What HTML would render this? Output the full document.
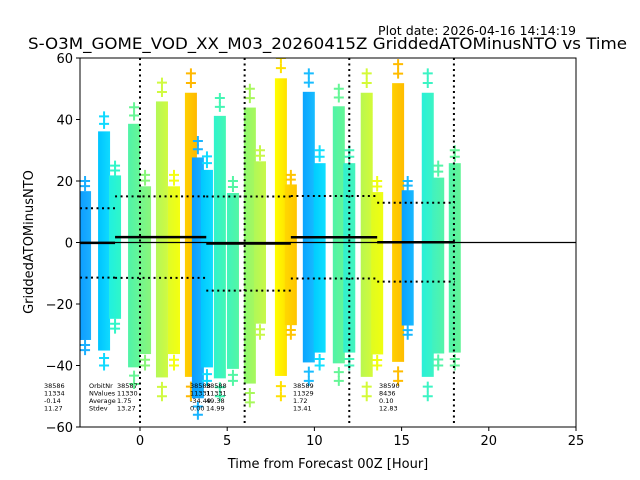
<!DOCTYPE html>
<html><head><meta charset="utf-8"><style>
body{margin:0;background:#fff;}
svg{display:block;font-family:"DejaVu Sans","Liberation Sans",sans-serif;}
</style></head><body>
<svg id="chart" width="640" height="480" viewBox="0 0 640 480">
<rect width="640" height="480" fill="#fff"/>
<text x="378" y="35" font-size="12" textLength="198" lengthAdjust="spacingAndGlyphs">Plot date: 2026-04-16 14:14:19</text>
<text x="28" y="49" font-size="16" textLength="599" lengthAdjust="spacingAndGlyphs">S-O3M_GOME_VOD_XX_M03_20260415Z GriddedATOMinusNTO vs Time</text>
<g id="plot"></g>
<text x="328" y="468" font-size="13" text-anchor="middle">Time from Forecast 00Z [Hour]</text>
<text transform="translate(33,242) rotate(-90)" font-size="13" text-anchor="middle">GriddedATOMinusNTO</text>
</svg>
<script>
const stripHours=[-3.15,-2.06,-1.43,-0.34,0.29,1.26,1.95,2.92,3.32,3.84,4.58,5.33,6.3,6.88,8.08,8.65,9.68,10.3,11.4,12.0,13.0,13.6,14.8,15.35,16.5,17.1,18.05];
const stripTop=[20,41,25,44,22,52,22,55,33,28,47,20,50,30,60,22,55,30,50,30,55,20,58,20,55,25,30];
const stripBottom=[-35,-40,-28,-46,-40,-50,-40,-50,-56,-45,-50,-45,-52,-30,-50,-30,-45,-40,-45,-40,-50,-40,-45,-30,-50,-40,-40];
const stripColorA=["#0c9cff","#00c4ff","#20f0e0","#50f4a8","#70f690","#b4f858","#e0fc28","#ffd000","#0a9cff","#00c8ff","#30f4cc","#40f4bc","#90f870","#b0f858","#ffff00","#ffd800","#0aa4ff","#00ccff","#50f4a8","#30f0d0","#b8f850","#e0fc20","#ffd000","#08a0ff","#28f0d8","#40f2c0","#50f4a8"];
const stripColorB=["#1cb0ff","#10daff","#30f6c8","#68f696","#88f67a","#d0fa40","#f4ff10","#ffb800","#18b4ff","#10dcff","#44f6b4","#54f6a4","#a8f85c","#c8f848","#ffe000","#ffc400","#18bcff","#10e0ff","#64f696","#44f4bc","#d4fa38","#f0fe10","#ffbc00","#18b8ff","#3cf4c4","#54f4a8","#64f498"];
const segStart=[-3.44,-1.43,3.8,8.65,13.6];
const segEnd=[-1.43,3.8,8.65,13.6,18.05];
const segMean=[-0.14,1.75,-0.34,1.72,0.10];
const segStdev=[11.27,13.27,15.3,13.41,12.83];
const xTicks=[0,5,10,15,20,25];
const yTicks=[-60,-40,-20,0,20,40,60];
const vLines=[0,6,12,18];
const X0=80,X1=576,Y0=58,Y1=427,XMIN=-3.44,XMAX=25,YMIN=-60,YMAX=60;
function sx(v){return X0+(v-XMIN)/(XMAX-XMIN)*(X1-X0);}
function sy(v){return Y1-(v-YMIN)/(YMAX-YMIN)*(Y1-Y0);}
const NS="http://www.w3.org/2000/svg";
const svg=document.getElementById('chart');
const plot=document.getElementById('plot');
function mk(tag,attrs,parent){const e=document.createElementNS(NS,tag);for(const k in attrs)e.setAttribute(k,attrs[k]);(parent||plot).appendChild(e);return e;}
const defs=mk('defs',{},svg);
const clip=mk('clipPath',{id:'clip'},defs);
mk('rect',{x:X0,y:Y0,width:X1-X0,height:Y1-Y0},clip);
const g=mk('g',{'clip-path':'url(#clip)'});


stripHours.forEach((h,i)=>{
  const gr=mk('linearGradient',{id:'gr'+i,x1:0,x2:1,y1:0,y2:0},defs);
  mk('stop',{offset:0,'stop-color':stripColorA[i]},gr);
  mk('stop',{offset:1,'stop-color':stripColorB[i]},gr);
  const cx=sx(h),w=12;
  const t=stripTop[i],b=stripBottom[i];
  const ct=t-(t-b)*0.06,cb=b+(t-b)*0.06;
  const r=mk('rect',{x:cx-w/2,y:sy(ct),width:w,height:sy(cb)-sy(ct),fill:'url(#gr'+i+')'},g);
  
  
  for(let k=0;k<2;k++){
    const vt=ct+(t-ct)*(k+1)/2, vb=cb-(cb-b)*(k+1)/2;
    [vt,vb].forEach(v=>{
      const p=mk('path',{d:`M${cx-5},${sy(v)}h10M${cx},${sy(v)-5}v10`,stroke:stripColorB[i],'stroke-width':2},g);
      
      
    });
  }
});
vLines.forEach(v=>{const l=mk('line',{x1:sx(v),x2:sx(v),y1:Y0,y2:Y1,stroke:'#000','stroke-width':2,'stroke-dasharray':'2,3.5'});
});
const zl=mk('line',{x1:X0,x2:X1,y1:sy(0),y2:sy(0),stroke:'#000','stroke-width':1.2});

segStart.forEach((s,i)=>{
  const a=sx(s),b=sx(segEnd[i]);
  const m=mk('line',{x1:a,x2:b,y1:sy(segMean[i]),y2:sy(segMean[i]),stroke:'#000','stroke-width':2.5});
  
  [1,-1].forEach(sg=>{const d=mk('line',{x1:a,x2:b,y1:sy(segMean[i]+sg*segStdev[i]),y2:sy(segMean[i]+sg*segStdev[i]),stroke:'#000','stroke-width':2,'stroke-dasharray':'2,3.5'});
  });
});
const ann=[[44,['38586','11334','-0.14','11.27']],[117,['38587','11330','1.75','13.27']],[190,['38588','11331','-34.49','0.00']],[206,['38588','11331','49.38','14.99']],[293,['38589','11329','1.72','13.41']],[379,['38590','8436','0.10','12.83']]];
ann.forEach(([x,vals])=>{vals.forEach((v,j)=>{const t=mk('text',{x:x,y:388+j*7.5,'font-size':6.5});t.textContent=v;
});});
['OrbitNr','NValues','Average','Stdev'].forEach((v,j)=>{const t=mk('text',{x:89,y:388+j*7.5,'font-size':6.5});t.textContent=v;
});
const fr=mk('rect',{x:X0,y:Y0,width:X1-X0,height:Y1-Y0,fill:'none',stroke:'#000','stroke-width':1});

xTicks.forEach(v=>{mk('line',{x1:sx(v),x2:sx(v),y1:Y1,y2:Y1+4,stroke:'#000'});
const t=mk('text',{x:sx(v),y:Y1+18,'font-size':13,'text-anchor':'middle'});t.textContent=v;
});
yTicks.forEach(v=>{mk('line',{x1:X0-4,x2:X0,y1:sy(v),y2:sy(v),stroke:'#000'});
const t=mk('text',{x:X0-7,y:sy(v)+5,'font-size':13,'text-anchor':'end'});t.textContent=v<0?'\u2212'+(-v):v;
});
</script>
</body></html>
